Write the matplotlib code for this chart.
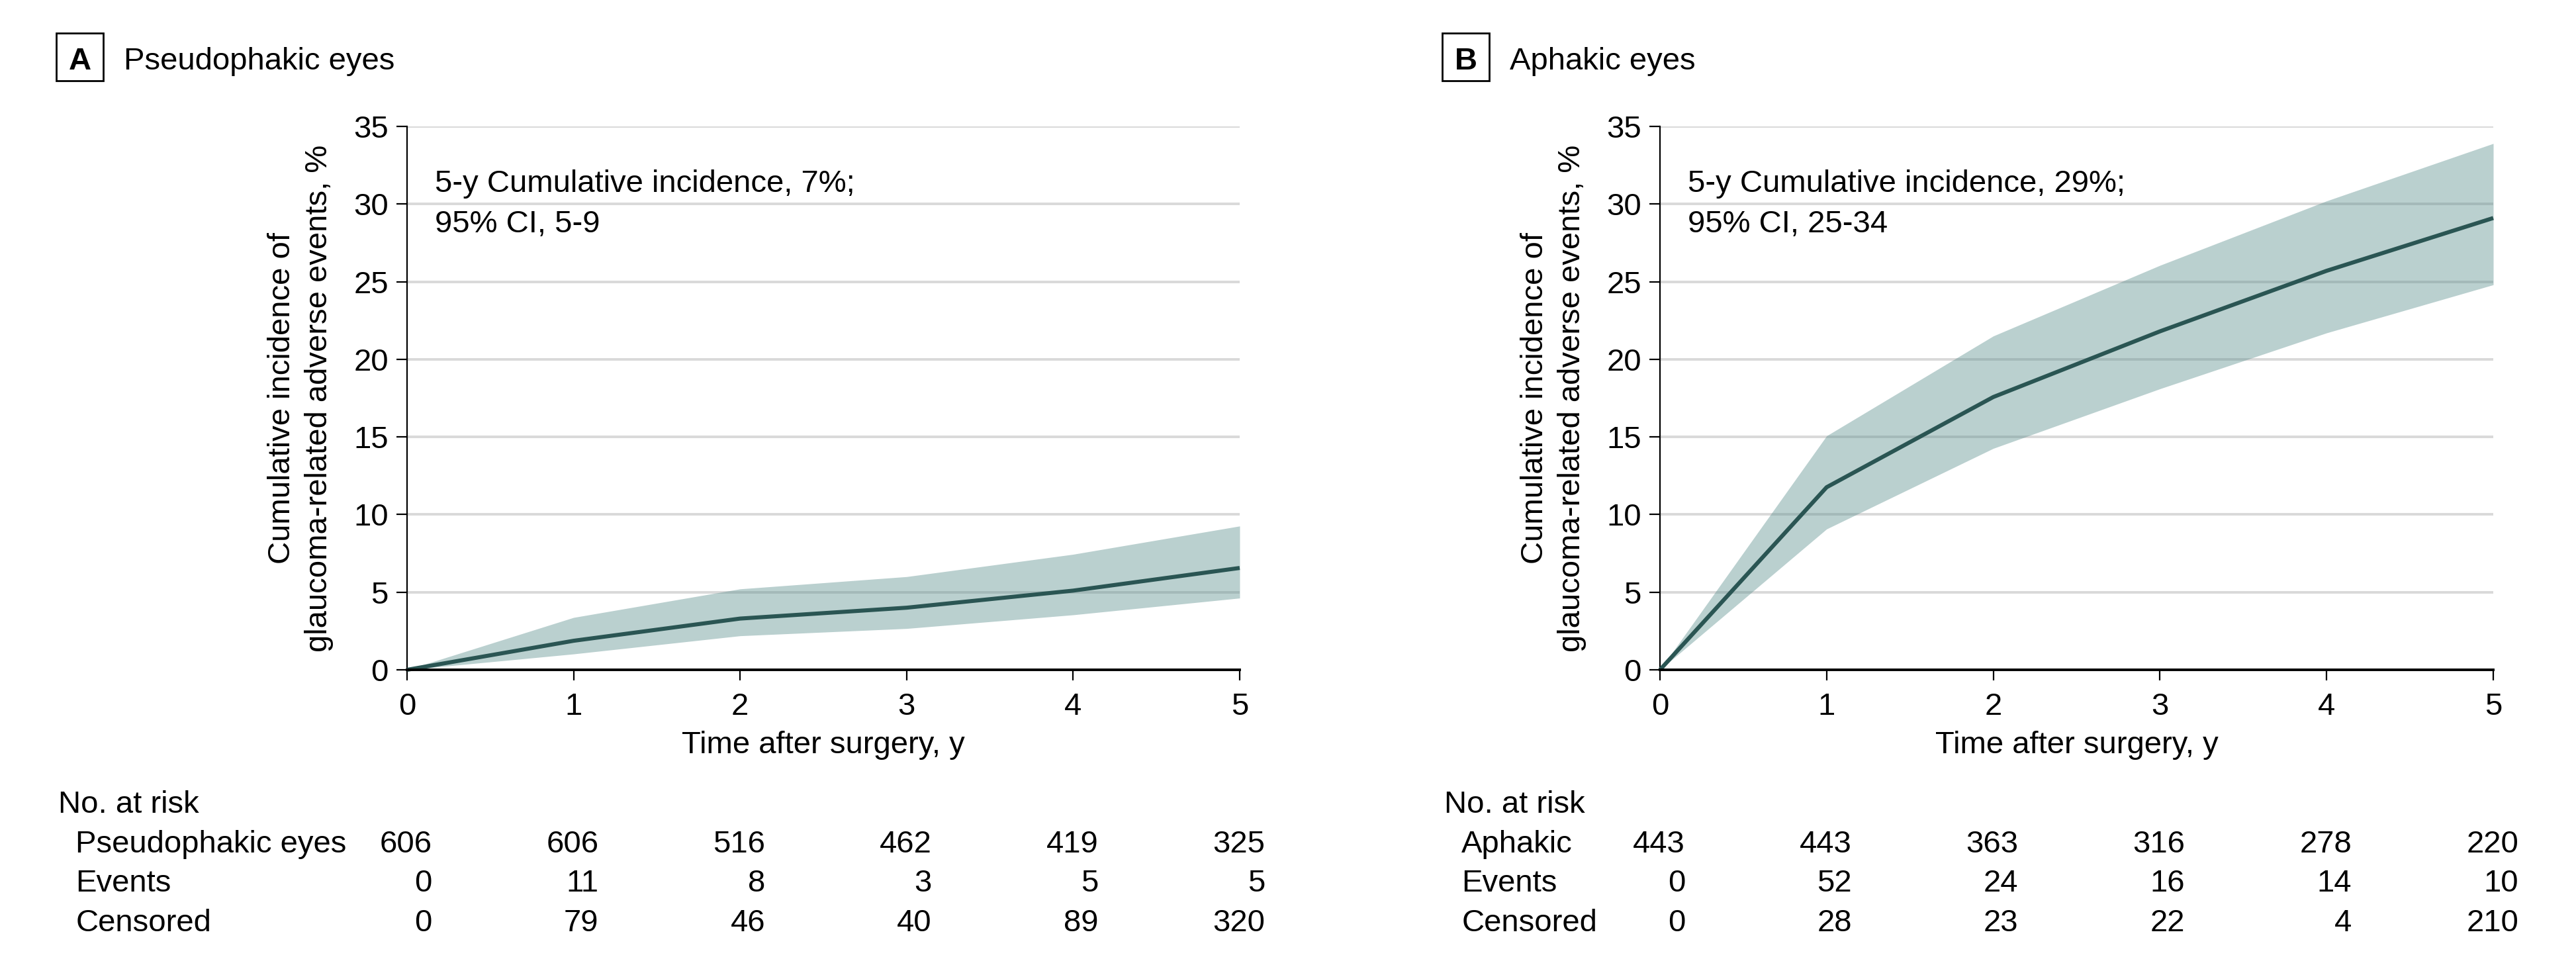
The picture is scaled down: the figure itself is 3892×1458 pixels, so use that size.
import matplotlib
matplotlib.use("Agg")
from matplotlib import pyplot as plt
from matplotlib.patches import Rectangle
import numpy as np

plt.rcParams['font.family'] = ['Liberation Sans', 'DejaVu Sans']
plt.rcParams['font.size'] = 17

# data
years = [0, 1, 2, 3, 4, 5]

pseudo_est = [0, 1.87, 3.3, 4.0, 5.1, 6.56]
pseudo_upper = [0, 3.37, 5.21, 6.0, 7.44, 9.26]
pseudo_lower = [0, 1.02, 2.19, 2.66, 3.54, 4.62]

aphakic_est = [0, 11.76, 17.57, 21.8, 25.7, 29.1]
aphakic_upper = [0, 15.07, 21.5, 26.05, 30.2, 33.9]
aphakic_lower = [0, 9.07, 14.26, 18.1, 21.7, 24.8]

pseudo_risk = [606, 606, 516, 462, 419, 325]
pseudo_events = [0, 11, 8, 3, 5, 5]
pseudo_censored = [0, 79, 46, 40, 89, 320]

aphakic_risk = [443, 443, 363, 316, 278, 220]
aphakic_events = [0, 52, 24, 16, 14, 10]
aphakic_censored = [0, 28, 23, 22, 4, 210]

panel_letters = ["A", "B"]
panel_titles = ["Pseudophakic eyes", "Aphakic eyes"]
group_names = ["Pseudophakic eyes", "Aphakic"]
notes = [("5-y Cumulative incidence, 7%;", "95% CI, 5-9"),
         ("5-y Cumulative incidence, 29%;", "95% CI, 25-34")]

line_color = "#2a5553"
fill_color = "#5b8f8e"

W, H = 3892, 1458
fig = plt.figure(figsize=(W / 200, H / 200), dpi=200)

ax_a = fig.add_axes([615 / W, 1 - 1012 / H, 1258 / W, 821 / H])
ax_b = fig.add_axes([2508 / W, 1 - 1012 / H, 1259 / W, 821 / H])

panels = [
    (ax_a, pseudo_est, pseudo_lower, pseudo_upper,
     [pseudo_risk, pseudo_events, pseudo_censored], -0.421),
    (ax_b, aphakic_est, aphakic_lower, aphakic_upper,
     [aphakic_risk, aphakic_events, aphakic_censored], -0.261),
]

for i, (ax, est, lo, hi, table, left) in enumerate(panels):
    ax.fill_between(years, lo, hi, color=fill_color, alpha=0.42, lw=0, zorder=2)
    ax.plot(years, est, color=line_color, lw=2.2, zorder=3, clip_on=False,
            solid_capstyle='butt')

    ax.set_xlim(0, 5)
    ax.set_ylim(0, 35)
    ax.set_xticks(years)
    ax.set_yticks(range(0, 36, 5))
    ax.yaxis.grid(True, color='#d9d9d9', lw=1.4, zorder=0)
    ax.set_axisbelow(True)
    for s in ['top', 'right']:
        ax.spines[s].set_visible(False)
    ax.spines['left'].set_linewidth(0.8)
    ax.spines['bottom'].set_linewidth(1.4)
    ax.spines['bottom'].set_zorder(4)
    ax.tick_params(axis='x', length=5.8, width=0.8, pad=6.5, labelsize=17)
    ax.tick_params(axis='y', length=5.8, width=0.8, pad=4.3, labelsize=17)

    ax.set_xlabel("Time after surgery, y", fontsize=17)
    ax.xaxis.set_label_coords(0.5, -0.112)
    ax.set_ylabel("Cumulative incidence of\nglaucoma-related adverse events, %",
                  fontsize=17, linespacing=1.35)
    ax.yaxis.set_label_coords(-0.088, 0.5)

    ax.text(0.0334, 0.879, notes[i][0], transform=ax.transAxes,
            ha='left', va='baseline', fontsize=17)
    ax.text(0.0334, 0.805, notes[i][1], transform=ax.transAxes,
            ha='left', va='baseline', fontsize=17)

    # panel header with boxed letter
    box_w = 71 / 1258
    ax.add_artist(Rectangle((left, 1.084), box_w, 0.088, transform=ax.transAxes,
                            fill=False, ec='black', lw=1.0, clip_on=False))
    ax.text(left + box_w / 2, 1.105, panel_letters[i], transform=ax.transAxes,
            ha='center', va='baseline', fontsize=17, fontweight='bold')
    ax.text(left + 102 / 1258, 1.105, panel_titles[i], transform=ax.transAxes,
            ha='left', va='baseline', fontsize=17)

    # number at risk table
    tr = ax.get_xaxis_transform()
    ax.text(left + 0.002, -0.263, "No. at risk", transform=ax.transAxes,
            ha='left', va='baseline', fontsize=17)
    row_names = [group_names[i], "Events", "Censored"]
    row_y = [-0.336, -0.408, -0.481]
    for name, vals, y in zip(row_names, table, row_y):
        ax.text(left + 0.023, y, name, transform=ax.transAxes,
                ha='left', va='baseline', fontsize=17)
        for t, v in zip(years, vals):
            ax.text(t + 0.151, y, str(v), transform=tr,
                    ha='right', va='baseline', fontsize=17)

fig.savefig("out.png", dpi=200)
